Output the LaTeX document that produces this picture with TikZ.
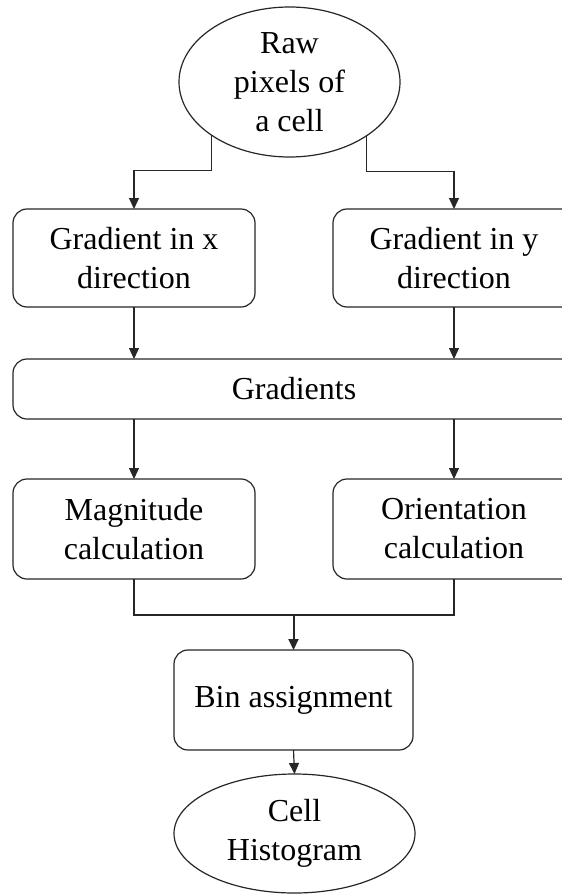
\documentclass[tikz,border=0pt]{standalone}
\usepackage{fontspec}
\setmainfont{Liberation Serif}
\usetikzlibrary{arrows.meta,shapes.geometric}
\tikzset{
  base/.style={draw=black!85, line width=1.2pt, inner sep=0pt, outer sep=0pt, align=center,
    font=\fontsize{32}{39}\selectfont, fill=white},
  box/.style={base, rectangle, rounded corners=14pt},
  ell/.style={base, ellipse},
  arr/.style={draw=black!85, line width=1.2pt, -{Triangle[length=11pt,width=10pt]}},
  plain/.style={draw=black!85, line width=1.2pt},
}
\begin{document}
\begin{tikzpicture}[x=1pt,y=-1pt]
\useasboundingbox (0,0) rectangle (562,894);
\clip (0,0) rectangle (562,894);
\node[ell, minimum width=221pt, minimum height=150pt] (raw) at (289.5,82) {Raw\\pixels of\\a cell};
\node[box, minimum width=242pt, minimum height=98pt] (gx) at (134,258) {Gradient in x\\direction};
\node[box, minimum width=242pt, minimum height=98pt] (gy) at (454,258) {Gradient in y\\direction};
\node[box, minimum width=562pt, minimum height=60pt] (grads) at (294,389) {Gradients};
\node[box, minimum width=242pt, minimum height=100pt] (mag) at (134,529) {Magnitude\\calculation};
\node[box, minimum width=242pt, minimum height=100pt] (ori) at (454,529) {Orientation\\calculation};
\node[box, minimum width=239pt, minimum height=100pt] (bin) at (293.5,700) {Bin assignment};
\node[ell, minimum width=241pt, minimum height=119pt] (cell) at (294.5,833.5) {Cell\\Histogram};

\draw[arr] (raw.214.6) -- ++(0,35.5) -| (gx.north);
\draw[arr] (raw.325.4) -- ++(0,35.5) -| (gy.north);
\draw[arr] (gx.south) -- (gx.south |- grads.north);
\draw[arr] (gy.south) -- (gy.south |- grads.north);
\draw[arr] (grads.south -| mag.north) -- (mag.north);
\draw[arr] (grads.south -| ori.north) -- (ori.north);
\draw[plain] (mag.south) -- ++(0,36) coordinate (jl) -| (ori.south);
\draw[arr, line width=2pt] (bin.north |- jl) -- (bin.north);
\draw[arr] (bin.south) -- (cell.north);
\end{tikzpicture}
\end{document}
